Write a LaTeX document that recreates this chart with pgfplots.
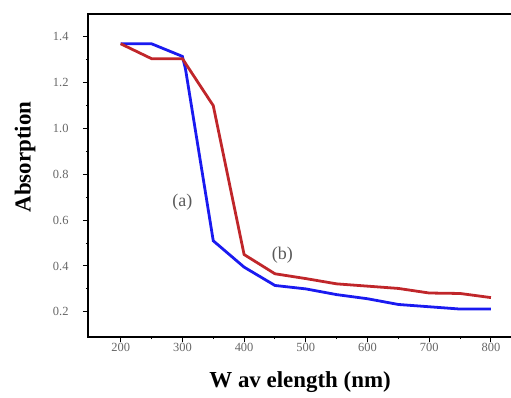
\documentclass[border=0pt]{standalone}
\usepackage{pgfplots}
\pgfplotsset{compat=1.18}
\usepackage{fontspec}
\setmainfont{Liberation Serif}
\definecolor{cblue}{HTML}{1A1AF0}
\definecolor{cred}{HTML}{C0262A}
\begin{document}
\begin{tikzpicture}
\begin{axis}[
  scale only axis,
  width=427.6bp, height=323bp,
  xmin=147, xmax=840, ymin=0.09, ymax=1.5,
  xtick={200,300,...,800},
  ytick={0.2,0.4,...,1.4},
  minor xtick={250,350,...,750},
  minor ytick={0.3,0.5,...,1.3},
  tick align=outside,
  xtick pos=bottom, ytick pos=left,
  major tick length=5bp, minor tick length=2bp,
  every tick/.style={black, line width=1pt},
  axis line style={line width=1.3pt},
  /pgf/number format/assume math mode=true,
  /pgf/number format/fixed, /pgf/number format/fixed zerofill,
  /pgf/number format/precision=1,
  xticklabel={\pgfmathprintnumber[fixed,precision=0]{\tick}},
  tick label style={font=\fontsize{12.5}{13}\selectfont, text=black!60},
  yticklabel style={xshift=-11bp},
  xticklabel style={yshift=2bp},
  xlabel={\textbf{W av elength (nm)}},
  ylabel={\textbf{Absorption}},
  label style={font=\fontsize{23}{24}\selectfont},
  xlabel style={at={(axis description cs:0.496,-0.139)}, anchor=center},
  ylabel style={at={(axis description cs:-0.147,0.557)}, anchor=center, rotate=0},
  clip=false,
]
\addplot[cblue, line width=2.8pt] coordinates {
(200,1.37) (250,1.37) (300,1.315) (305,1.26) (350,0.51) (400,0.395) (450,0.315) (500,0.30) (550,0.275) (600,0.257) (650,0.232) (700,0.222) (750,0.212) (800,0.212)};
\addplot[cred, line width=2.8pt] coordinates {
(200,1.37) (250,1.305) (300,1.305) (350,1.10) (400,0.45) (450,0.366) (500,0.345) (550,0.322) (600,0.312) (650,0.302) (700,0.282) (750,0.28) (800,0.262)};
\node[font=\fontsize{18}{19}\selectfont, text=black!65] at (axis cs:300,0.68) {(a)};
\node[font=\fontsize{18}{19}\selectfont, text=black!65] at (axis cs:462,0.445) {(b)};
\end{axis}
\pgfresetboundingbox
\useasboundingbox (-88bp,-61bp) rectangle (423bp,337bp);
\end{tikzpicture}
\end{document}
